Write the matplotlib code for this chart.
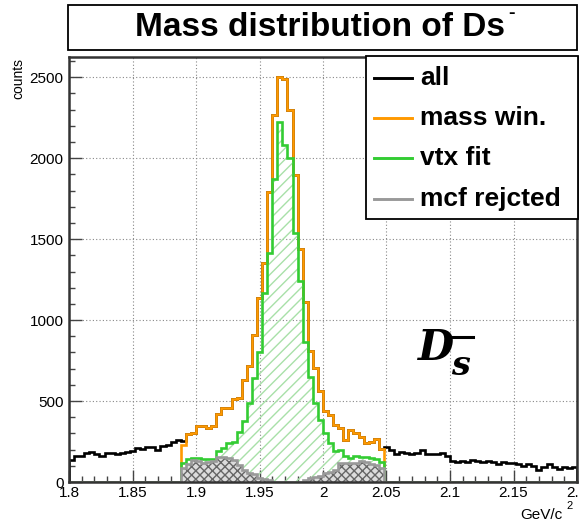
import numpy as np
import matplotlib.pyplot as plt
from matplotlib.patches import Rectangle
from matplotlib.lines import Line2D
from matplotlib.ticker import MultipleLocator

plt.rcParams['font.family'] = ['Liberation Sans', 'DejaVu Sans']

W, H = 579, 522

# 100 bins of 0.004 GeV/c^2 from 1.8 to 2.2
bin_lo, bin_hi, n_bins = 1.8, 2.2, 100
win_first, win_last = 22, 62  # mass window covers bins 22..61

# "all" outside the window (first value is the partial bin 22)
all_left = [136, 163, 163, 177, 185, 173, 163, 177, 177, 175, 181, 187, 190,
            210, 205, 214, 218, 200, 224, 228, 249, 259, 252]
all_right = [215, 200, 175, 183, 180, 173, 178, 198, 173, 172,
             174, 177, 162, 131, 121, 131, 121, 135, 131, 121,
             127, 125, 110, 121, 115, 115, 110, 100, 110, 100,
             73, 90, 110, 90, 80, 94, 85, 90]

mass_win = [228, 298, 300, 345, 345, 331, 345, 417, 454, 454,
            510, 516, 630, 716, 907, 1134, 1354, 1792, 2265, 2500,
            2490, 2296, 1895, 1442, 1113, 811, 702, 564, 440, 415,
            355, 331, 259, 321, 305, 275, 243, 249, 265, 205]
vtx_fit = [120, 140, 146, 146, 140, 140, 145, 190, 208, 243,
           245, 311, 378, 490, 640, 805, 1165, 1416, 1874, 2224,
           2080, 2000, 1535, 1243, 866, 646, 486, 380, 300, 240,
           190, 195, 160, 150, 160, 155, 155, 150, 140, 125]
mcf_rejected = [84, 110, 136, 132, 120, 125, 130, 152, 152, 146,
                136, 105, 74, 58, 50, 22, 20, 12, 0, 0,
                0, 0, 0, 0, 10, 25, 30, 35, 54, 62,
                77, 120, 118, 120, 118, 131, 125, 110, 105, 84]

x_ticks = [1.8, 1.85, 1.9, 1.95, 2.0, 2.05, 2.1, 2.15, 2.2]
x_labels = ['1.8', '1.85', '1.9', '1.95', '2', '2.05', '2.1', '2.15', '2.2']
y_ticks = [0, 500, 1000, 1500, 2000, 2500]

legend_names = ['all', 'mass win.', 'vtx fit', 'mcf rejcted']
c_all, c_win, c_vtx, c_mcf = 'black', '#ff9900', '#33cc33', '#999999'


def fx(px):
    return px / W


def fy(py):
    return 1 - py / H


def in_window(vals):
    h = np.zeros(n_bins)
    h[win_first:win_last] = vals
    return h


edges = np.linspace(bin_lo, bin_hi, n_bins + 1)
h_all = np.concatenate([all_left, mass_win[1:], all_right])
h_win = in_window(mass_win)
h_vtx = in_window(vtx_fit)
h_mcf = in_window(mcf_rejected)

fig = plt.figure(figsize=(W / 100, H / 100), dpi=100)
ax = fig.add_axes([fx(69), fy(482), fx(577) - fx(69), fy(57) - fy(482)])

lw = 1.9
ax.stairs(h_all, edges, color=c_all, lw=lw, zorder=2)
ax.stairs(h_win, edges, color=c_win, lw=lw, zorder=3)
ax.stairs(h_vtx, edges, fill=True, facecolor='none', edgecolor='#a8e0a8',
          hatch='///', lw=0, zorder=4)
ax.stairs(h_vtx, edges, color=c_vtx, lw=lw, zorder=5)
ax.stairs(h_mcf, edges, fill=True, facecolor='#dcdcdc', edgecolor='#666666',
          hatch='xxxx', lw=0, zorder=6)
ax.stairs(h_mcf, edges, color=c_mcf, lw=lw, zorder=7)

ax.set_xlim(bin_lo, bin_hi)
ax.set_ylim(0, 2625)
ax.set_xticks(x_ticks, x_labels)
ax.set_yticks(y_ticks)
ax.xaxis.set_minor_locator(MultipleLocator(0.01))
ax.yaxis.set_minor_locator(MultipleLocator(100))
ax.tick_params(which='both', direction='in', top=False, right=False,
               color='#444444', width=1)
ax.tick_params(which='major', length=9)
ax.tick_params(which='minor', length=4.5)
ax.tick_params(axis='x', labelsize=11, pad=3)
ax.tick_params(axis='y', labelsize=11, pad=4)
ax.grid(True, which='major', linestyle=(0, (1, 2)), color='#888888', lw=0.8)
ax.set_axisbelow(True)
for sp in ax.spines.values():
    sp.set_linewidth(1.8)
    sp.set_color('#333333')
    sp.set_zorder(10)

fig.text(fx(18), fy(58), 'counts', rotation=90, ha='center', va='top', fontsize=10)
fig.text(fx(520), fy(519), 'GeV/c', ha='left', va='baseline', fontsize=11)
fig.text(fx(566), fy(509), '2', ha='left', va='baseline', fontsize=8)

# title box
fig.patches.append(Rectangle((fx(68), fy(50)), fx(577) - fx(68), fy(5) - fy(50),
                             transform=fig.transFigure, facecolor='white',
                             edgecolor='black', lw=1.3))
fig.text(fx(320), fy(28), 'Mass distribution of Ds', ha='center', va='center',
         fontsize=24, fontweight='bold')
fig.text(fx(508), fy(14), '-', ha='left', va='center', fontsize=14, fontweight='bold')

# legend box
fig.patches.append(Rectangle((fx(366), fy(219)), fx(578) - fx(366), fy(56) - fy(219),
                             transform=fig.transFigure, facecolor='white',
                             edgecolor='black', lw=1.3, zorder=5))
rows_y = [78, 118, 158, 199]
for name, col, ry in zip(legend_names, [c_all, c_win, c_vtx, c_mcf], rows_y):
    fig.lines.append(Line2D([fx(374), fx(412)], [fy(ry), fy(ry)], color=col,
                            lw=lw + 0.2, transform=fig.transFigure, zorder=6))
    fig.text(fx(420), fy(ry), name, ha='left', va='center', fontsize=19,
             fontweight='bold', zorder=6)

# D_s^- label
fig.text(fx(418), fy(360), 'D', ha='left', va='baseline', fontsize=30,
         fontweight='bold', style='italic', family='DejaVu Serif')
fig.text(fx(451), fy(375), 's', ha='left', va='baseline', fontsize=24,
         fontweight='bold', style='italic', family='DejaVu Serif')
fig.lines.append(Line2D([fx(453), fx(473)], [fy(337), fy(337)], color='black',
                        lw=2.2, transform=fig.transFigure))

fig.savefig('out.png', dpi=100)
